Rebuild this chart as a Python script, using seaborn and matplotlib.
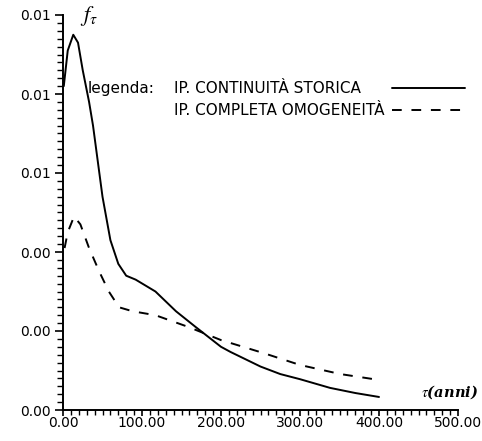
import matplotlib
matplotlib.use("Agg")
import matplotlib.pyplot as plt
import seaborn as sns
import pandas as pd
from matplotlib.ticker import MultipleLocator, FormatStrFormatter

# Data
t_storica = [1, 6, 13, 19, 25, 33, 38, 44, 50, 60, 70, 80, 92, 117, 143, 168, 200, 212, 250, 275, 300, 338, 370, 400]
f_storica = [0.0082, 0.0091, 0.0095, 0.0093, 0.0086, 0.0078, 0.0072, 0.0063, 0.0054, 0.0043, 0.0037, 0.0034,
             0.0033, 0.0030, 0.0025, 0.0021, 0.0016, 0.00147, 0.0011, 0.00091, 0.00078, 0.00056, 0.00043, 0.00033]

t_omog = [2, 6, 14, 22, 33, 46, 58, 71, 88, 117, 159, 200, 254, 300, 351, 400]
f_omog = [0.0041, 0.0045, 0.0049, 0.0047, 0.0041, 0.0035, 0.0030, 0.0026, 0.0025, 0.0024, 0.0021,
          0.00177, 0.00144, 0.00114, 0.00091, 0.00076]

label_storica = "IP. CONTINUITÀ STORICA"
label_omog = "IP. COMPLETA OMOGENEITÀ"

x_ticks = [0, 100, 200, 300, 400, 500]
y_ticks = [0.000, 0.002, 0.004, 0.006, 0.008, 0.010]

df1 = pd.DataFrame({"t": t_storica, "f": f_storica})
df2 = pd.DataFrame({"t": t_omog, "f": f_omog})

sns.set_style("ticks")
plt.rcParams['font.family'] = ['DejaVu Sans']
plt.rcParams['mathtext.fontset'] = 'stix'
for key in ['text.color', 'xtick.color', 'ytick.color', 'axes.labelcolor', 'axes.edgecolor']:
    plt.rcParams[key] = 'black'

fig = plt.figure(figsize=(4.82, 4.41), dpi=100)
ax = fig.add_axes([63 / 482, 1 - 410 / 441, (458 - 63) / 482, (410 - 15) / 441])

sns.lineplot(data=df1, x="t", y="f", ax=ax, color="black", linewidth=1.4, label=label_storica)
sns.lineplot(data=df2, x="t", y="f", ax=ax, color="black", linewidth=1.4, linestyle=(0, (5, 5)),
             label=label_omog)

ax.set_xlim(0, 500)
ax.set_ylim(0, 0.010)
ax.set_xticks(x_ticks)
ax.set_yticks(y_ticks)
ax.xaxis.set_major_formatter(FormatStrFormatter('%.2f'))
ax.yaxis.set_major_formatter(FormatStrFormatter('%.2f'))
ax.xaxis.set_minor_locator(MultipleLocator(10))
ax.yaxis.set_minor_locator(MultipleLocator(0.0002))
ax.tick_params(axis='y', which='major', direction='out', length=6, width=1.2, labelsize=10, pad=3)
ax.tick_params(axis='y', which='minor', direction='out', length=4, width=1.0)
ax.tick_params(axis='x', which='major', direction='out', length=4, width=1.2, labelsize=10, pad=0.5)
ax.tick_params(axis='x', which='minor', direction='out', length=3.5, width=1.0)
for side in ['top', 'right']:
    ax.spines[side].set_visible(False)
for side in ['left', 'bottom']:
    ax.spines[side].set_linewidth(1.4)
    ax.spines[side].set_color('black')
ax.set_xlabel("")
ax.set_ylabel("")

fs = 11
leg = ax.legend(loc='upper left', bbox_to_anchor=((174 - 63) / 395, (410 - 81) / 395), markerfirst=False,
                frameon=False, fontsize=fs, handlelength=4.8, handletextpad=0.5,
                labelspacing=0.45, borderpad=0, borderaxespad=0)

# left-align the label column (text left, line samples right)
fig.canvas.draw()
renderer = fig.canvas.get_renderer()
widths = [t.get_window_extent(renderer).width for t in leg.get_texts()]
maxw = max(widths)
column = leg._legend_handle_box.get_children()[0]
for item, w in zip(column.get_children(), widths):
    item.sep = item.sep + (maxw - w) * 72 / fig.dpi

fig.text(88 / 482, 1 - 89 / 441, "legenda:", fontsize=11, ha='left', va='center')
fig.text(80 / 482, 1 - 16 / 441, r"$f_\tau$", fontsize=16, ha='left', va='center')
fig.text(478 / 482, 1 - 392 / 441, r"$\tau$(anni)", fontsize=10.5, ha='right', va='center',
         fontstyle='italic', fontweight='bold', family='DejaVu Serif')

fig.savefig("out.png", dpi=100, facecolor='white')
